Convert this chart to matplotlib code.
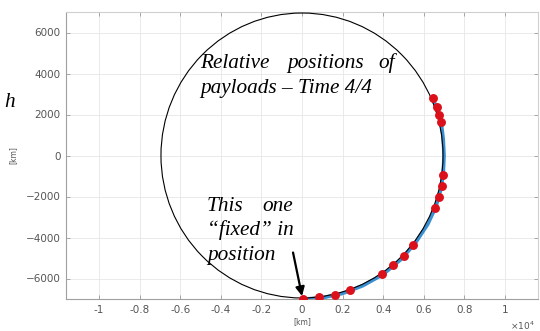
import matplotlib
matplotlib.use("Agg")
import matplotlib.pyplot as plt
from matplotlib.patches import Circle

# payload positions [km]
px = [6440, 6635, 6765, 6850, 6960, 6880, 6750, 6535, 5450, 5025, 4500, 3960, 2365, 1625, 855, 30]
py = [2795, 2390, 2000, 1610, -940, -1500, -2035, -2540, -4390, -4910, -5365, -5775, -6585, -6795, -6925, -6990]

# trajectory (blue) [km]
tx = [6450, 6850, 6960, 7000, 6960, 6830, 6600, 6200, 5600, 4900, 4000, 3000, 2000, 1000, 0]
ty = [2800, 1700, 800, 0, -900, -1700, -2500, -3350, -4250, -5050, -5800, -6350, -6730, -6940, -7010]

ref_radius = 6950

xticks = [-10000, -8000, -6000, -4000, -2000, 0, 2000, 4000, 6000, 8000, 10000]
xticklabels = ["-1", "-0.8", "-0.6", "-0.4", "-0.2", "0", "0.2", "0.4", "0.6", "0.8", "1"]
yticks = [-6000, -4000, -2000, 0, 2000, 4000, 6000]

fig = plt.figure(figsize=(5.4, 3.31), dpi=100)
ax = fig.add_axes([66/540, 1-299/331, 472/540, 287/331])

ax.add_patch(Circle((0, 0), ref_radius, fill=False, color="black", lw=0.8, zorder=4))
ax.plot(tx, ty, color="#3a8fd0", lw=2.6, zorder=3)
ax.plot(px, py, "o", color="#dc101a", ms=5.4, zorder=5)

ax.set_xlim(-11630, 11630)
ax.set_ylim(-7000, 7000)
ax.set_xticks(xticks)
ax.set_xticklabels(xticklabels)
ax.set_yticks(yticks)
ax.grid(True, color="#e6e6e6", lw=0.6)
ax.set_axisbelow(True)
ax.tick_params(direction="in", length=3, width=0.6, colors="#9a9a9a",
               labelcolor="#555555", labelsize=7.5, top=True, right=True, pad=4)
for s in ["left", "bottom"]:
    ax.spines[s].set_color("#a0a0a0")
for s in ["top", "right"]:
    ax.spines[s].set_color("#d0d0d0")

ax.set_xlabel("[km]", fontsize=5.5, color="#555555", labelpad=2)
ax.set_ylabel("[km]", fontsize=5.5, color="#555555")
ax.yaxis.set_label_coords(-0.102, 0.5)
fig.text(510/540, 1-326/331, r"$\times10^4$", fontsize=6.5, color="#555555", va="center")

serif = dict(family="Liberation Serif", style="italic", fontsize=15.3, color="black")
fig.text(200/540, 1-68/331, "Relative", **serif)
fig.text(287/540, 1-68/331, "positions", **serif)
fig.text(395/540, 1-68/331, "of", ha="right", **serif)
fig.text(200/540, 1-93/331, "payloads \u2013 Time 4/4", **serif)

fig.text(207/540, 1-211/331, "This", **serif)
fig.text(293/540, 1-211/331, "one", ha="right", **serif)
fig.text(207/540, 1-235/331, "\u201cfixed\u201d in", **serif)
fig.text(207/540, 1-260/331, "position", **serif)
fig.text(4/540, 1-107/331, "h", **serif)

ax.annotate("", xy=(px[-1], py[-1]), xytext=(-470, -4600),
            arrowprops=dict(arrowstyle="-|>", color="black", lw=1.6, mutation_scale=13),
            zorder=6)

fig.savefig("out.png", dpi=100)
